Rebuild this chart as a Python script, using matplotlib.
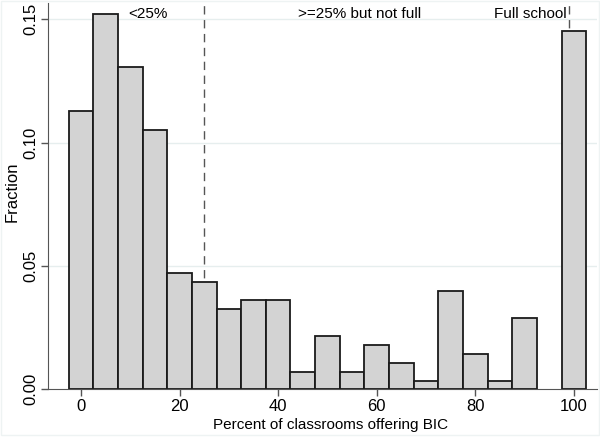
import matplotlib
matplotlib.use("Agg")
import matplotlib.pyplot as plt
import numpy as np

# bin centres (percent) and fraction of schools in each bin
bins = [0, 5, 10, 15, 20, 25, 30, 35, 40, 45, 50, 55, 60, 65, 70, 75, 80, 85, 90, 100]
frac = [0.1126, 0.1522, 0.1306, 0.1050, 0.0472, 0.0434, 0.0326, 0.0362, 0.0362, 0.0071,
        0.0216, 0.0071, 0.0179, 0.0108, 0.0035, 0.0399, 0.0144, 0.0035, 0.0290, 0.1451]

cutoffs = [25, 99]
labels = ["<25%", ">=25% but not full", "Full school"]
label_x = [9.5, 56.5, 98.5]
label_ha = ["left", "center", "right"]

plt.rcParams['font.family'] = ['Liberation Sans', 'DejaVu Sans']

fig = plt.figure(figsize=(6, 4.37), dpi=100)
ax = fig.add_axes([0.0795, 0.109, 0.9155, 0.884])

for y in [0.05, 0.10, 0.15]:
    ax.axhline(y, color='#e6eeee', lw=1, zorder=0)

for c in cutoffs:
    ax.axvline(c, color='#555555', lw=1, ls=(0, (6, 4)), zorder=1)

ax.bar(bins, frac, width=5, color='#d3d3d3', edgecolor='#1a1a1a', linewidth=1.3, zorder=2)

for t, x, ha in zip(labels, label_x, label_ha):
    ax.text(x, 0.152, t, ha=ha, va='center', fontsize=11)

ax.set_xlim(-6.75, 104.7)
ax.set_ylim(0, 0.1565)
ax.set_xticks([0, 20, 40, 60, 80, 100])
ax.set_yticks([0, 0.05, 0.10, 0.15])
ax.set_yticklabels(['0.00', '0.05', '0.10', '0.15'], rotation=90, va='center')
ax.tick_params(labelsize=12, length=5, color='#555555', width=1)
ax.tick_params(axis='y', pad=2)
ax.tick_params(axis='x', pad=2)

for s in ['top', 'right']:
    ax.spines[s].set_visible(False)
for s in ['left', 'bottom']:
    ax.spines[s].set_color('#555555')

ax.set_xlabel('Percent of classrooms offering BIC', fontsize=11, labelpad=1)
ax.xaxis.set_label_coords(0.515, -0.075)
ax.set_ylabel('Fraction', fontsize=12, va='center')
ax.yaxis.set_label_coords(-0.065, 0.512)

fig.patches.append(plt.Rectangle((0.002, 0.005), 0.996, 0.993, transform=fig.transFigure,
                                 fill=False, edgecolor='#eef3f3', lw=1))

fig.savefig('out.png', dpi=100)
